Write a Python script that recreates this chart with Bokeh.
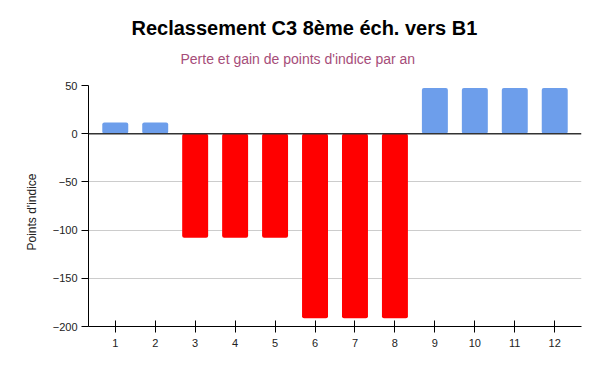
from bokeh.plotting import figure
from bokeh.models import Title, Span, FixedTicker, Range1d
from bokeh.embed import file_html
from bokeh.resources import INLINE

# Data
echelons = [1, 2, 3, 4, 5, 6, 7, 8, 9, 10, 11, 12]
points = [11.5, 11.5, -108, -108, -108, -191.5, -191.5, -191.5, 47.5, 47.5, 47.5, 47.5]
y_ticks = [-200, -150, -100, -50, 0, 50]

title_text = "Reclassement C3 8ème éch. vers B1"
subtitle_text = "Perte et gain de points d'indice par an"
y_label = "Points d'indice"

POS = "#6d9eeb"
NEG = "#ff0000"
colors = [POS if v >= 0 else NEG for v in points]

p = figure(width=592, height=363, output_backend="svg", toolbar_location=None,
           x_range=Range1d(0.33, 12.67), y_range=Range1d(-200, 50),
           min_border_left=88, min_border_right=11, min_border_top=85, min_border_bottom=37)
p.outline_line_color = None

p.vbar(x=echelons, top=points, bottom=0, width=0.65, fill_color=colors,
       line_color=None, border_radius=2)

sub = Title(text=subtitle_text, align="left", offset=92, standoff=38,
            text_font="Liberation Sans", text_font_size="14px", text_font_style="normal",
            text_color="#a64d79")
p.add_layout(sub, "above")
main = Title(text=title_text, align="left", offset=43, standoff=-19,
             text_font="Liberation Sans", text_font_size="20px", text_font_style="bold",
             text_color="#000000")
p.add_layout(main, "above")

ylab = Title(text=y_label, align="left", offset=76, standoff=22,
             text_font="Liberation Sans", text_font_size="12px", text_font_style="normal",
             text_color="#222222")
p.add_layout(ylab, "left")

p.add_layout(Span(location=0, dimension="width", line_color="#333333", line_width=1.5))

p.xgrid.grid_line_color = None
p.ygrid.grid_line_color = "#cccccc"
p.ygrid.ticker = FixedTicker(ticks=[-150, -100, -50, 50])

p.xaxis.ticker = FixedTicker(ticks=echelons)
p.xaxis.major_tick_in = 6
p.xaxis.major_tick_out = 6
p.xaxis.minor_tick_line_color = None
p.xaxis.axis_line_color = "#000000"
p.xaxis.major_tick_line_color = "#000000"
p.xaxis.major_label_text_font = "Liberation Sans"
p.xaxis.major_label_text_font_size = "11px"
p.xaxis.major_label_text_color = "#222222"
p.xaxis.major_label_standoff = 6

p.yaxis.ticker = FixedTicker(ticks=y_ticks)
p.yaxis.major_tick_in = 0
p.yaxis.major_tick_out = 7
p.yaxis.minor_tick_line_color = None
p.yaxis.axis_line_color = "#000000"
p.yaxis.major_tick_line_color = "#000000"
p.yaxis.major_label_text_font = "Liberation Sans"
p.yaxis.major_label_text_font_size = "11px"
p.yaxis.major_label_text_color = "#222222"
p.yaxis.major_label_standoff = 4

open("out.html", "w").write(file_html(p, INLINE))
